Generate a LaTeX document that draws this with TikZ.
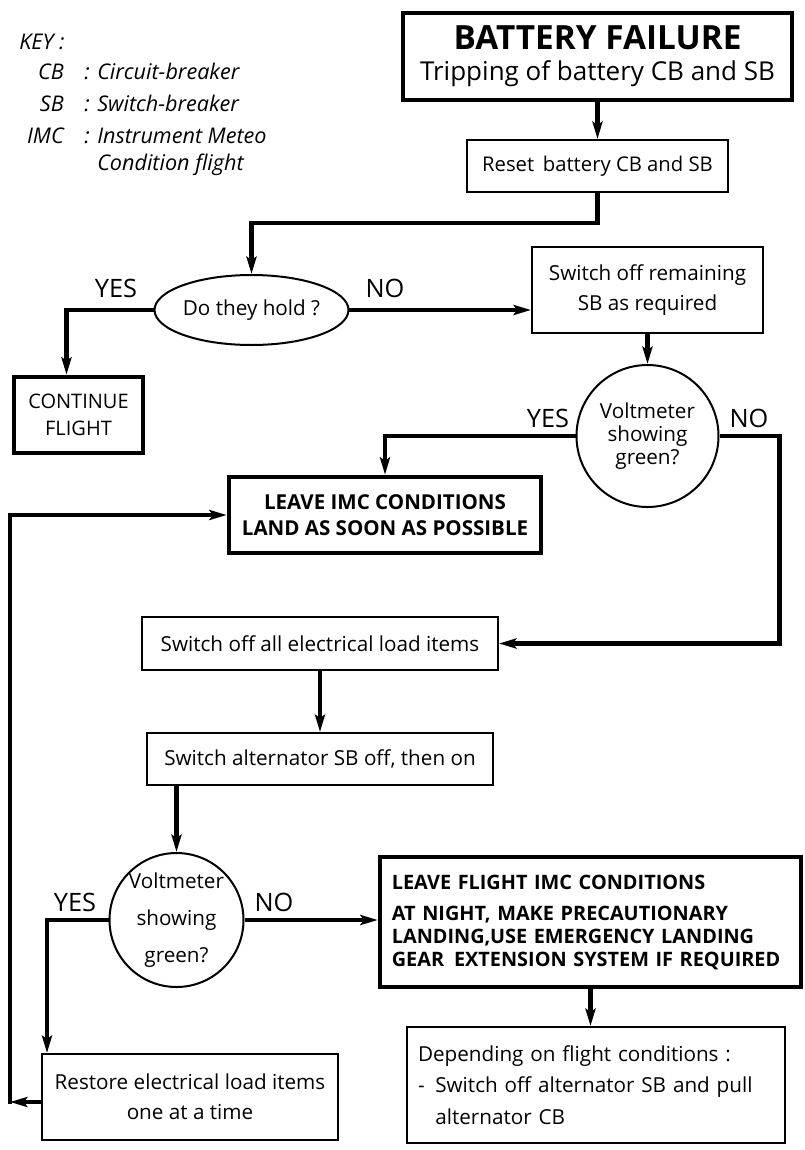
\documentclass[tikz,border=0pt]{standalone}
\usepackage{fontspec}
\setmainfont{Open Sans}
\usetikzlibrary{arrows.meta,shapes.geometric,calc}
\begin{document}
\begin{tikzpicture}[x=0.75pt,y=-0.75pt,
  box/.style={draw, line width=1.5pt, inner sep=0pt, align=center,
    font=\fontsize{15.5}{23}\selectfont},
  thickbox/.style={box, line width=3.4pt},
  decision/.style={draw, line width=1.5pt, inner sep=0pt, align=center,
    font=\fontsize{15.5}{17}\selectfont},
  conn/.style={line width=3.1pt, -{Stealth[length=13pt,width=7.5pt,inset=2.5pt]}},
  lbl/.style={font=\fontsize{19}{22}\selectfont, inner sep=0pt},
  keytxt/.style={font=\fontsize{16.2}{20}\selectfont\itshape, inner sep=0pt}
]
\useasboundingbox (0,0) rectangle (804,1150);

% Key
\node[keytxt, anchor=base west] (key) at (19,49.5) {KEY :};
\node[keytxt, anchor=base east] (kcb) at (64,79.5) {CB};
\node[keytxt, anchor=base] (kcbc) at (87,79.5) {:};
\node[keytxt, anchor=base west] (kcbd) at (97,79.5) {Circuit-breaker};
\node[keytxt, anchor=base east] (ksb) at (64,111.5) {SB};
\node[keytxt, anchor=base] (ksbc) at (87,111.5) {:};
\node[keytxt, anchor=base west] (ksbd) at (97,111.5) {Switch-breaker};
\node[keytxt, anchor=base east] (kimc) at (64,143.5) {IMC};
\node[keytxt, anchor=base] (kimcc) at (87,143.5) {:};
\node[keytxt, anchor=base west] (kimcd) at (97,143.5) {Instrument Meteo};
\node[keytxt, anchor=base west] (kimce) at (97,170.5) {Condition flight};

% Nodes
\node[thickbox, minimum width=291.75pt, minimum height=65.25pt] (top) at (597.5,56.5)
  {{\fontsize{25}{28}\selectfont\bfseries BATTERY FAILURE}\\[0pt]{\fontsize{19.5}{24}\selectfont Tripping of battery CB and SB}};
\node[box, minimum width=195.75pt, minimum height=39pt, font=\fontsize{15.2}{18}\selectfont] (reset) at (597.5,166) {Reset\, battery CB and SB};
\node[decision, ellipse, minimum width=144.75pt, minimum height=52.5pt] (hold) at (251.5,310) {Do they hold ?};
\node[thickbox, minimum width=96.75pt, minimum height=57pt, font=\fontsize{15}{20}\selectfont] (cont) at (78.5,415) {CONTINUE\\FLIGHT};
\node[box, minimum width=173.25pt, minimum height=64.5pt] (swrem) at (647.5,290) {Switch off remaining\\SB as required};
\node[decision, circle, minimum size=106.5pt, font=\fontsize{15.5}{17}\selectfont] (v1) at (647.5,436) {Voltmeter\\showing\\green?};
\node[thickbox, minimum width=234pt, minimum height=57pt, font=\fontsize{15.4}{20}\selectfont\bfseries] (leave1) at (385,515) {LEAVE IMC CONDITIONS\\LAND AS SOON AS POSSIBLE};
\node[box, minimum width=267pt, minimum height=39.75pt] (swall) at (320,643.5) {Switch off all electrical load items};
\node[box, minimum width=259.5pt, minimum height=39pt] (swalt) at (320,759) {Switch alternator SB off, then on};
\node[decision, circle, minimum size=100.5pt, font=\fontsize{15.5}{27.5}\selectfont] (v2) at (176.5,920) {Voltmeter\\showing\\green?};
\node[box, minimum width=222pt, minimum height=64.5pt, font=\fontsize{15.5}{22.5}\selectfont] (restore) at (190,1097) {Restore electrical load items\\one at a time};
\node[thickbox, minimum width=315.75pt, minimum height=97.5pt, align=left, text width=298pt,
  font=\fontsize{14.9}{17.25}\selectfont\bfseries] (leave2) at (590.5,922)
  {LEAVE FLIGHT IMC CONDITIONS\\[6pt]AT NIGHT, MAKE PRECAUTIONARY\\LANDING,USE EMERGENCY LANDING\\GEAR\, EXTENSION SYSTEM IF REQUIRED};
\node[box, minimum width=283.5pt, minimum height=87pt, align=left, text width=267pt,
  font=\fontsize{15.5}{23.6}\selectfont] (dep) at (596,1085)
  {Depending on flight conditions :\\-\hspace{8pt}Switch off alternator SB and pull\\\hphantom{-}\hspace{8pt}alternator CB};

% Labels
\node[lbl] (y1) at (116,288) {YES};
\node[lbl] (n1) at (385,288) {NO};
\node[lbl] (y2) at (548,418) {YES};
\node[lbl] (n2) at (749,418) {NO};
\node[lbl] (y3) at (75,902) {YES};
\node[lbl] (n3) at (274,902) {NO};

% Connectors
\draw[conn] (top.south) -- (reset.north);
\draw[conn] (reset.south) -- ++(0,30) -| (hold.north);
\draw[conn] (hold.west) -| ($(cont.north)+(-12,0)$);
\draw[conn] (hold.east) -- (hold.east -| swrem.west);
\draw[conn] (swrem.south) -- (v1.north);
\draw[conn] (v1.west) -| (leave1.north);
\draw[conn] (v1.east) -- ++(60,0) |- (swall.east);
\draw[conn] (swall.south) -- (swalt.north);
\draw[conn] (swalt.south -| v2.north) -- (v2.north);
\draw[conn] (v2.west) -| ($(restore.north west)+(6,0)$);
\draw[conn] (v2.east) -- (v2.east -| leave2.west);
\draw[conn] (leave2.south) -- (leave2.south |- dep.north);
\coordinate (loop) at (10,1102);
\draw[conn] ($(restore.west)+(0,5)$) -- (loop);
\draw[conn] ($(loop)+(0,1.5)$) |- (leave1.west);
\end{tikzpicture}
\end{document}
